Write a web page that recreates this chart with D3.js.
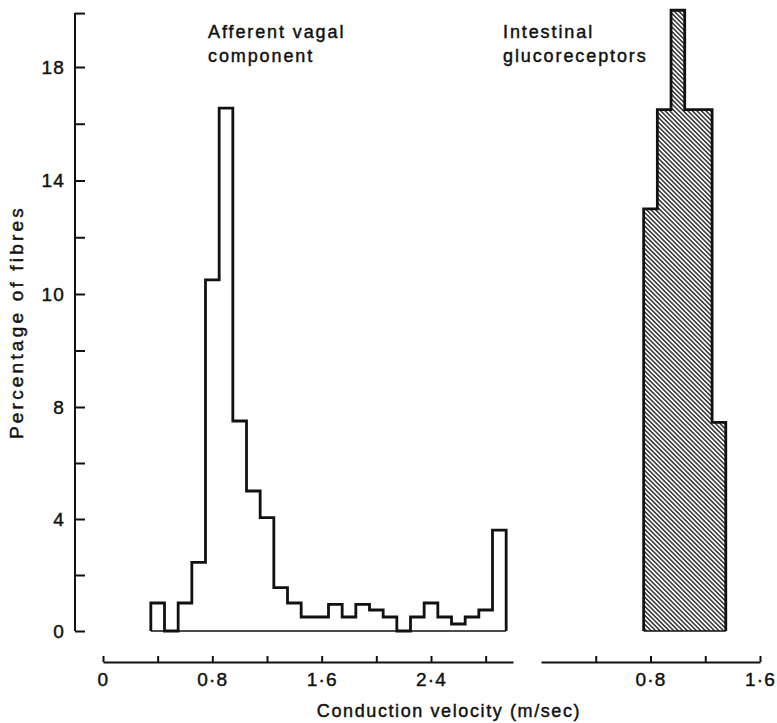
<!DOCTYPE html>
<html>
<head>
<meta charset="utf-8">
<script src="https://cdn.jsdelivr.net/npm/d3@7"></script>
<style>
	body { margin:0; background:#fff; }
	text { font-family: "Liberation Sans", Arial, Helvetica, sans-serif; fill:#111; stroke:#111; stroke-width:0.45px; }
	.axis path, .axis line { stroke:#111; stroke-width:2; }
	.axis text { font-size:19px; letter-spacing:1.2px; font-family: "Liberation Sans", Arial, sans-serif; fill:#111; stroke:#111; stroke-width:0.45px; }
</style>
</head>
<body>
<div id="chart"></div>
<script>

// bin start (m/sec), each bin is 0.1 wide
var vagalBins = [0.35,0.45,0.55,0.65,0.75,0.85,0.95,1.05,1.15,1.25,1.35,1.45,1.55,1.65,1.75,1.85,1.95,2.05,2.15,2.25,2.35,2.45,2.55,2.65,2.75,2.85];
var vagalValues = [1.0,0,1.0,2.45,10.5,16.55,7.5,5.0,4.05,1.55,1.0,0.5,0.5,0.95,0.5,0.95,0.75,0.5,0,0.5,1.0,0.5,0.25,0.5,0.75,3.6];

var glucoBins = [0.75,0.85,0.95,1.05,1.15,1.25];
var glucoValues = [13.0,16.5,20.0,16.5,16.5,7.45];

var binWidth = 0.1;

// y axis, the labels are printed as in the original figure
var yLabelTicks = [0,4,8,10,14,18];
var yMinorTicks = [2,6,9,12,16,19.9];
var leftXTicks = [0,0.4,0.8,1.2,1.6,2.0,2.4,2.8];
var leftXLabels = [0,0.8,1.6,2.4];
var rightXTicks = [0.4,0.8,1.2,1.6];
var rightXLabels = [0.8,1.6];

var width = 777, height = 723;

var svg = d3.select("#chart").append("svg")
	.attr("width", width)
	.attr("height", height);

// hatch for the glucoreceptor bars
var defs = svg.append("defs");
defs.append("pattern")
	.attr("id", "hatch")
	.attr("patternUnits", "userSpaceOnUse")
	.attr("width", 3.2)
	.attr("height", 3.2)
	.attr("patternTransform", "rotate(-45)")
	.append("line")
	.attr("x1", 1.6).attr("y1", 0)
	.attr("x2", 1.6).attr("y2", 3.2)
	.attr("stroke", "#111")
	.attr("stroke-width", 1.3);

// scales
var y = d3.scaleLinear().domain([0,8,10,18]).range([631,407,294,67]);
var xLeft = d3.scaleLinear().domain([0,3.0]).range([103,513]);
var xRight = d3.scaleLinear().domain([0,1.6]).range([541,760]);

function fmt(d) {
	return d3.format(".1f")(d).replace(".0", "").replace(".", "\u00b7");
}

// y axis
var yAxis = d3.axisLeft(y)
	.tickValues(yLabelTicks.concat(yMinorTicks))
	.tickSizeInner(-10)
	.tickSizeOuter(0)
	.tickPadding(10)
	.tickFormat(function(d) { return yLabelTicks.indexOf(d) >= 0 ? d : ""; });

svg.append("g")
	.attr("class", "axis")
	.attr("transform", "translate(75,0)")
	.call(yAxis)
	.call(function(g) { g.select(".domain").attr("d", "M0," + y(0) + "V" + y(19.9)); });

// x axes (ticks point up)
svg.append("g")
	.attr("class", "axis")
	.attr("transform", "translate(0,662)")
	.call(d3.axisBottom(xLeft)
		.tickValues(leftXTicks)
		.tickSizeInner(-6)
		.tickSizeOuter(0)
		.tickPadding(11)
		.tickFormat(function(d) { return leftXLabels.indexOf(d) >= 0 ? (d == 0 ? "0" : fmt(d)) : ""; }));

svg.append("g")
	.attr("class", "axis")
	.attr("transform", "translate(0,662)")
	.call(d3.axisBottom(xRight)
		.tickValues(rightXTicks)
		.tickSizeInner(-6)
		.tickSizeOuter(0)
		.tickPadding(11)
		.tickFormat(function(d) { return rightXLabels.indexOf(d) >= 0 ? fmt(d) : ""; }));

// step outline of a histogram
function stepPath(x, bins, values) {
	var p = d3.path();
	p.moveTo(x(bins[0]), y(0));
	bins.forEach(function(b, i) {
		p.lineTo(x(b), y(values[i]));
		p.lineTo(x(b + binWidth), y(values[i]));
	});
	var last = bins[bins.length-1] + binWidth;
	p.lineTo(x(last), y(0));
	return p.toString();
}

// afferent vagal component
svg.append("line")
	.attr("x1", xLeft(vagalBins[0])).attr("x2", xLeft(vagalBins[vagalBins.length-1] + binWidth))
	.attr("y1", y(0)).attr("y2", y(0))
	.attr("stroke", "#111").attr("stroke-width", 1.5);

svg.append("path")
	.attr("d", stepPath(xLeft, vagalBins, vagalValues))
	.attr("fill", "none")
	.attr("stroke", "#111")
	.attr("stroke-width", 2.8)
	.attr("stroke-linejoin", "miter");

// intestinal glucoreceptors
svg.append("path")
	.attr("d", stepPath(xRight, glucoBins, glucoValues) + "Z")
	.attr("fill", "url(#hatch)")
	.attr("stroke", "none");

svg.append("path")
	.attr("d", stepPath(xRight, glucoBins, glucoValues))
	.attr("fill", "none")
	.attr("stroke", "#111")
	.attr("stroke-width", 2.8);

svg.append("line")
	.attr("x1", xRight(glucoBins[0])).attr("x2", xRight(glucoBins[glucoBins.length-1] + binWidth))
	.attr("y1", y(0)).attr("y2", y(0))
	.attr("stroke", "#111").attr("stroke-width", 1.5);

// labels
var labels = svg.append("g").style("font-size", "18px").style("letter-spacing", "1.9px");
labels.append("text").attr("x", 208).attr("y", 38).text("Afferent vagal");
labels.append("text").attr("x", 208).attr("y", 62).text("component");
labels.append("text").attr("x", 503).attr("y", 38).text("Intestinal");
labels.append("text").attr("x", 503).attr("y", 62).text("glucoreceptors");

svg.append("text")
	.attr("transform", "translate(23,322) rotate(-90)")
	.attr("text-anchor", "middle")
	.style("font-size", "19px")
	.style("letter-spacing", "3.2px")
	.text("Percentage of fibres");

svg.append("text")
	.attr("x", 449)
	.attr("y", 717)
	.attr("text-anchor", "middle")
	.style("font-size", "18px")
	.style("letter-spacing", "1.6px")
	.text("Conduction velocity (m/sec)");

</script>
</body>
</html>
